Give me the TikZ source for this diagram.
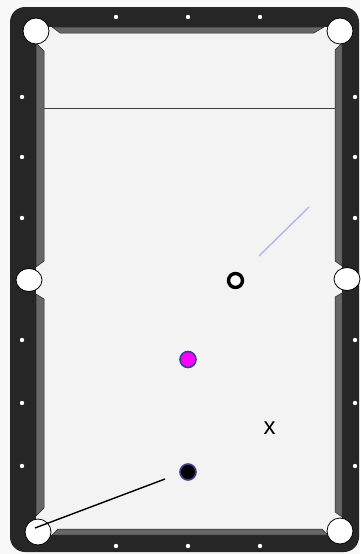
\documentclass[tikz,border=0pt]{standalone}
\usepackage{fontspec}
\setsansfont{Liberation Sans}
\usepackage{tikz}
\usetikzlibrary{arrows.meta, positioning, calc, shapes.geometric}
\definecolor{rail}{HTML}{262626}
\definecolor{cushion}{HTML}{666666}
\definecolor{felt}{HTML}{F3F3F3}
\definecolor{ballrim}{HTML}{3B4186}
\definecolor{aimblue}{HTML}{A9BCE6}
\definecolor{pink}{HTML}{FF00FF}

\begin{document}
\begin{tikzpicture}[x=1pt, y=-1pt, >=Stealth,
    pocket/.style={circle, fill=white, draw=black, line width=0.8pt,
                   minimum size=26pt, inner sep=0pt},
    sidepocket/.style={pocket, ellipse, minimum width=26pt, minimum height=23pt},
    ball/.style={circle, draw=ballrim, line width=1.6pt, minimum size=16pt, inner sep=0pt},
    cushionpart/.style={fill=cushion, draw=black!85, line width=0.5pt}]
  \useasboundingbox (0,0) rectangle (360,554);
  \fill[felt!60!white] (0,0) rectangle (360,554);

  % rail and bed
  \fill[rail, rounded corners=15pt] (10,7) rectangle (359,552);
  \fill[felt] (36,27) rectangle (342,535);

  % cushions
  \draw[cushionpart] (52,27) -- (324,27) -- (314,33) -- (60,33) -- cycle;
  \draw[cushionpart] (58,529) -- (322,529) -- (328,535) -- (52,535) -- cycle;
  \draw[cushionpart] (36,43) -- (44,51) -- (44,261) -- (36,267) -- cycle;
  \draw[cushionpart] (36,294) -- (44,299) -- (44,508) -- (36,516) -- cycle;
  \draw[cushionpart] (342,43) -- (335,50) -- (335,261) -- (342,266) -- cycle;
  \draw[cushionpart] (342,293) -- (335,297) -- (335,512) -- (342,517) -- cycle;

  % diamonds
  \foreach \x in {116,188,260} {
    \fill[white] (\x,17) circle (2.2);
    \fill[white] (\x,546) circle (2.2);
  }
  \foreach \y in {97,157,218,340,403,466} {
    \fill[white] (22,\y) circle (2.2);
    \fill[white] (355,\y) circle (2.2);
  }

  % pockets
  \node[pocket] (pocketTL) at (36,31) {};
  \node[pocket] (pocketTR) at (340,31) {};
  \node[pocket] (pocketBL) at (38,532) {};
  \node[pocket] (pocketBR) at (340,531) {};
  \node[sidepocket] (pocketML) at (29,280) {};
  \node[sidepocket] (pocketMR) at (347,279) {};

  % head string
  \draw[black!75, line width=0.8pt] (44,108) -- (335,108);

  % aim lines
  \coordinate (ghostA) at (259,256);
  \coordinate (ghostB) at (309,207);
  \coordinate (cueEnd) at (165,479);
  \coordinate (cueTip) at (35,528);
  \draw[aimblue, line width=1.4pt] (ghostA) -- (ghostB);
  \draw[black, line width=1.4pt] (cueTip) -- (cueEnd);

  % balls
  \node[circle, draw=black, fill=white, line width=3.4pt, minimum size=14pt,
        inner sep=0pt] (cueball) at (235.5,280.5) {};
  \node[ball, fill=pink] (objball) at (188,359.5) {};
  \node[ball, fill=black] (eightball) at (188,472) {};
  \node[font=\sffamily\fontsize{24}{24}\selectfont, inner sep=0pt] (target) at (269.5,428) {x};
\end{tikzpicture}
\end{document}
